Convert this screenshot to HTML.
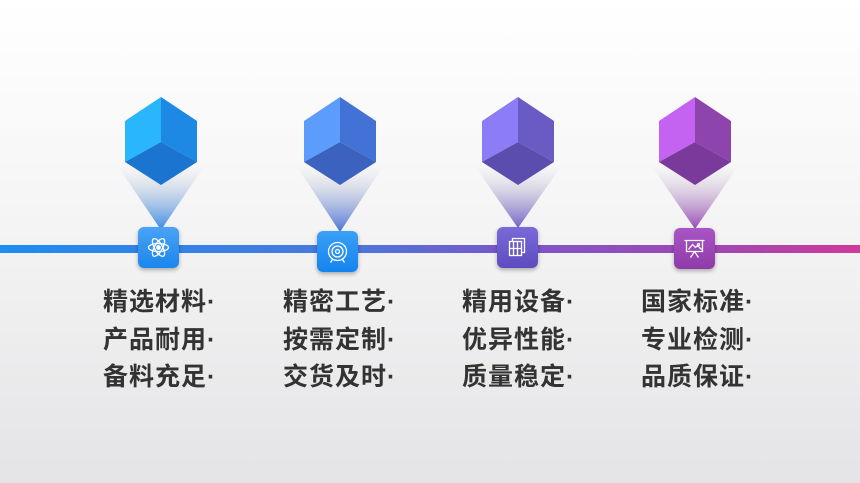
<!DOCTYPE html>
<html><head><meta charset="utf-8"><style>
html,body{margin:0;padding:0}
body{width:860px;height:483px;overflow:hidden;position:relative;background:linear-gradient(#ffffff 0%,#f6f6f7 40%,#e4e4e6 100%);font-family:"Liberation Sans","Noto Sans CJK SC",sans-serif}
.box{position:absolute;width:41px;height:41px;border-radius:6px;box-shadow:0 2px 4px rgba(0,0,0,.3)}
.t{position:absolute;font-size:25px;font-weight:bold;color:#333;line-height:37.5px;white-space:nowrap;letter-spacing:1px}
</style></head><body>
<svg width="860" height="483" style="position:absolute;left:0;top:0">
<defs>
<linearGradient id="ln" x1="0" x2="1"><stop offset="0" stop-color="#1e8cf0"/><stop offset=".4" stop-color="#4a78dc"/><stop offset=".6" stop-color="#7a56c8"/><stop offset=".85" stop-color="#a445b0"/><stop offset="1" stop-color="#d03a98"/></linearGradient>
<linearGradient id="c1" x1="0" y1="0" x2="0" y2="1"><stop offset="0" stop-color="#ccc" stop-opacity="0"/><stop offset="1" stop-color="#3a8ae8"/></linearGradient>
<linearGradient id="c2" x1="0" y1="0" x2="0" y2="1"><stop offset="0" stop-color="#ccc" stop-opacity="0"/><stop offset="1" stop-color="#4a72d8"/></linearGradient>
<linearGradient id="c3" x1="0" y1="0" x2="0" y2="1"><stop offset="0" stop-color="#ccc" stop-opacity="0"/><stop offset="1" stop-color="#7060c8"/></linearGradient>
<linearGradient id="c4" x1="0" y1="0" x2="0" y2="1"><stop offset="0" stop-color="#ccc" stop-opacity="0"/><stop offset="1" stop-color="#9a4ab8"/></linearGradient>
</defs>
<rect x="0" y="245" width="860" height="8" fill="url(#ln)"/>
<g transform="translate(161,0)">
<polygon points="-44,165 44,165 0,230" fill="url(#c1)"/>
<polygon points="0,97 -36,121 -36,162 0,142" fill="#29b6fb"/>
<polygon points="0,97 36,121 36,162 0,142" fill="#1e88e5"/>
<polygon points="-36,162 0,142 36,162 0,185" fill="#1a74d0"/>
</g>
<g transform="translate(340,0)">
<polygon points="-44,165 44,165 0,232" fill="url(#c2)"/>
<polygon points="0,97 -36,121 -36,162 0,142" fill="#5c9dfc"/>
<polygon points="0,97 36,121 36,162 0,142" fill="#4372d6"/>
<polygon points="-36,162 0,142 36,162 0,185" fill="#3a62be"/>
</g>
<g transform="translate(518,0)">
<polygon points="-44,165 44,165 0,228" fill="url(#c3)"/>
<polygon points="0,97 -36,121 -36,162 0,142" fill="#8c7cf6"/>
<polygon points="0,97 36,121 36,162 0,142" fill="#6a5bc4"/>
<polygon points="-36,162 0,142 36,162 0,185" fill="#5b4dae"/>
</g>
<g transform="translate(695,0)">
<polygon points="-44,165 44,165 0,229" fill="url(#c4)"/>
<polygon points="0,97 -36,121 -36,162 0,142" fill="#c463f2"/>
<polygon points="0,97 36,121 36,162 0,142" fill="#8e44ad"/>
<polygon points="-36,162 0,142 36,162 0,185" fill="#7a3a9c"/>
</g>
</svg>
<div class="box" style="left:138px;top:227px;background:linear-gradient(#4aa3f5,#1a86ee)"></div>
<div class="box" style="left:317px;top:231px;background:linear-gradient(#3aa0f8,#1484ee)"></div>
<div class="box" style="left:497px;top:227px;background:linear-gradient(#7a6ad8,#5d4cc0)"></div>
<div class="box" style="left:674px;top:228px;background:linear-gradient(#aa55c6,#8e3aa8)"></div>
<svg width="860" height="483" style="position:absolute;left:0;top:0" fill="none" stroke="#fff" stroke-width="1.3">
<g transform="translate(158.5,247.5)"><ellipse rx="10" ry="4"/><ellipse rx="10" ry="4" transform="rotate(60)"/><ellipse rx="10" ry="4" transform="rotate(-60)"/><circle r="1.8" fill="#fff"/></g>
<g transform="translate(337.5,251.5)"><circle r="9"/><circle r="5.5"/><circle r="2"/><path d="M-5,8 l-2,3 M5,8 l2,3"/></g>
<g transform="translate(517.5,247.5)"><rect x="-8" y="-6" width="12" height="14"/><path d="M-5,-6 v-3 h12 v14 h-3 M-4,-6 v14 M0,-6 v14 M-8,1 h12"/></g>
<g transform="translate(694.5,248.5)"><path d="M-10,-8 h20 M-8,-8 v11 h16 v-11 M0,3 l-4,6 M0,3 l4,6 M-6,1 l4,-5 l3,3 l2,-2 l4,4"/><circle cx="4" cy="-4" r="1"/></g>
</svg>
<div class="t" style="left:103px;top:284px">精选材料·<br>产品耐用·<br>备料充足·</div>
<div class="t" style="left:283px;top:284px">精密工艺·<br>按需定制·<br>交货及时·</div>
<div class="t" style="left:462px;top:284px">精用设备·<br>优异性能·<br>质量稳定·</div>
<div class="t" style="left:641px;top:284px">国家标准·<br>专业检测·<br>品质保证·</div>
</body></html>
